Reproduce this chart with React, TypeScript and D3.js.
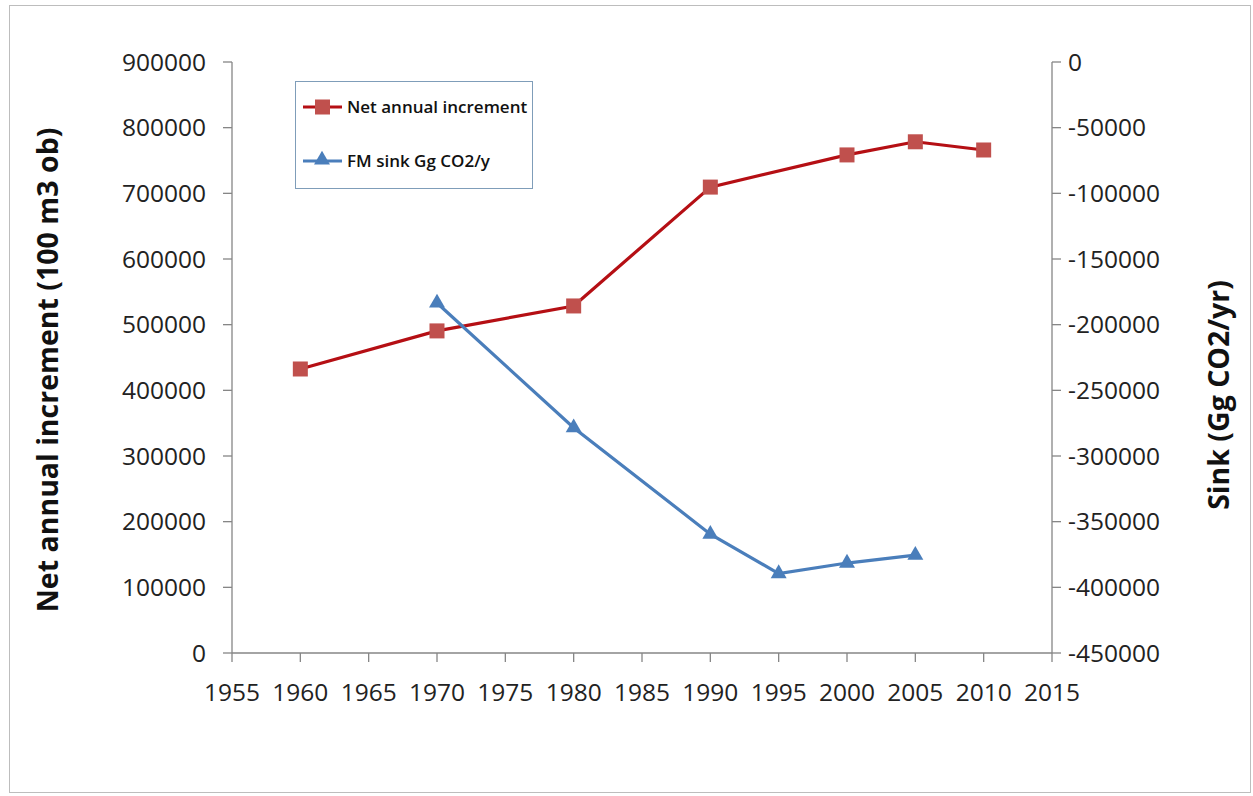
import React from "react";
import * as d3 from "d3";

const netYears = [1960, 1970, 1980, 1990, 2000, 2005, 2010];
const netValues = [432500, 490500, 528500, 709500, 758500, 778500, 766000];
const sinkYears = [1970, 1980, 1990, 1995, 2000, 2005];
const sinkValues = [-183500, -278500, -359500, -389500, -381500, -375500];
const xTicks = [1955, 1960, 1965, 1970, 1975, 1980, 1985, 1990, 1995, 2000, 2005, 2010, 2015];
const leftTicks = [0, 100000, 200000, 300000, 400000, 500000, 600000, 700000, 800000, 900000];
const rightTicks = [0, -50000, -100000, -150000, -200000, -250000, -300000, -350000, -400000, -450000];
const seriesNames = ["Net annual increment", "FM sink Gg CO2/y"];

const W = 1253, H = 796;
const L = 232, R = 1052, T = 62, B = 653;
const FONT = "'Open Sans', sans-serif";
const RED_LINE = "#B50F14";
const RED_MARK = "#C0504D";
const BLUE = "#4A7EBB";
const AXIS = "#868686";
const TICK_FS = 24.5;

export default function App() {
  const x = d3.scaleLinear().domain([1955, 2015]).range([L, R]);
  const yL = d3.scaleLinear().domain([0, 900000]).range([B, T]);
  const yR = d3.scaleLinear().domain([-450000, 0]).range([B, T]);
  const netLine = d3.line<number>().x((_, i) => x(netYears[i])).y((v) => yL(v));
  const sinkLine = d3.line<number>().x((_, i) => x(sinkYears[i])).y((v) => yR(v));
  const tri = d3.symbol().type(d3.symbolTriangle).size(110)();

  return (
    <svg width={W} height={H} style={{ position: "absolute", left: 0, top: 0, background: "#fff" }} fontFamily={FONT}>
      <rect x={9.5} y={5.5} width={1241} height={787} fill="#fff" stroke="#bdbdbd" />
      {/* axes */}
      <line x1={L} x2={L} y1={T} y2={B} stroke={AXIS} strokeWidth={1.3} />
      <line x1={R} x2={R} y1={T} y2={B} stroke={AXIS} strokeWidth={1.3} />
      <line x1={L} x2={R} y1={B} y2={B} stroke={AXIS} strokeWidth={1.3} />
      {leftTicks.map((t) => (
        <g key={"l" + t}>
          <line x1={L - 9} x2={L} y1={yL(t)} y2={yL(t)} stroke={AXIS} strokeWidth={1.3} />
          <text x={206} y={yL(t)} dy="0.35em" textAnchor="end" fontSize={TICK_FS} fill="#222">{t}</text>
        </g>
      ))}
      {rightTicks.map((t) => (
        <g key={"r" + t}>
          <line x1={R} x2={R + 9} y1={yR(t)} y2={yR(t)} stroke={AXIS} strokeWidth={1.3} />
          <text x={1068} y={yR(t)} dy="0.35em" textAnchor="start" fontSize={TICK_FS} fill="#222">{t}</text>
        </g>
      ))}
      {xTicks.map((t) => (
        <g key={"x" + t}>
          <line x1={x(t)} x2={x(t)} y1={B} y2={B + 9} stroke={AXIS} strokeWidth={1.3} />
          <text x={x(t)} y={692} dy="0.35em" textAnchor="middle" fontSize={TICK_FS} fill="#222">{t}</text>
        </g>
      ))}
      <text transform={`translate(58,370) rotate(-90)`} textAnchor="middle" fontSize={28.5} fontWeight="bold" fill="#111">Net annual increment (100 m3 ob)</text>
      <text transform={`translate(1229,395) rotate(-90)`} textAnchor="middle" fontSize={28.5} fontWeight="bold" fill="#111">Sink (Gg CO2/yr)</text>
      {/* series */}
      <path d={netLine(netValues) || ""} fill="none" stroke={RED_LINE} strokeWidth={3.2} />
      {netValues.map((v, i) => (
        <rect key={"n" + i} x={x(netYears[i]) - 7.5} y={yL(v) - 7.5} width={15} height={15} fill={RED_MARK} />
      ))}
      <path d={sinkLine(sinkValues) || ""} fill="none" stroke={BLUE} strokeWidth={3.2} />
      {sinkValues.map((v, i) => (
        <path key={"s" + i} d={tri || ""} transform={`translate(${x(sinkYears[i])},${yR(v)})`} fill={BLUE} />
      ))}
      {/* legend */}
      <rect x={295.5} y={81.5} width={237} height={107} fill="#fff" stroke="#7f9db9" />
      <line x1={303} x2={342} y1={107} y2={107} stroke={RED_LINE} strokeWidth={3.2} />
      <rect x={315} y={99.5} width={15} height={15} fill={RED_MARK} />
      <text x={347} y={107} dy="0.35em" fontSize={17} fontWeight={600} fill="#111">{seriesNames[0]}</text>
      <line x1={303} x2={342} y1={161} y2={161} stroke={BLUE} strokeWidth={3.2} />
      <path d={tri || ""} transform="translate(322,160)" fill={BLUE} />
      <text x={347} y={161} dy="0.35em" fontSize={17} fontWeight={600} fill="#111">{seriesNames[1]}</text>
    </svg>
  );
}
